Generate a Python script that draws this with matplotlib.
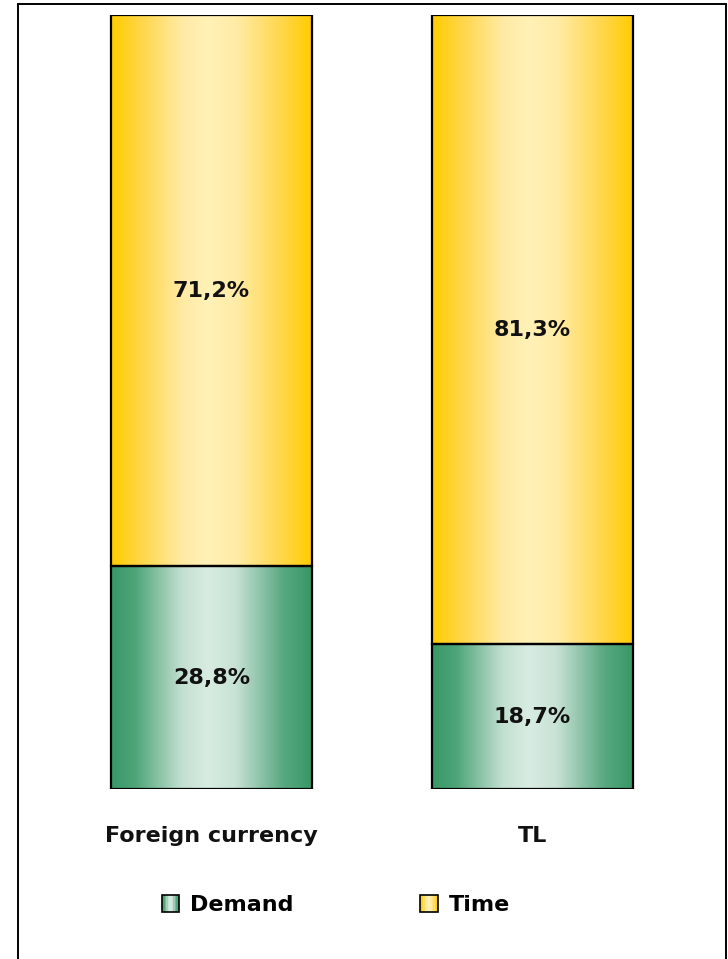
import numpy as np
import matplotlib
matplotlib.use('Agg')
import matplotlib.pyplot as plt
from matplotlib.colors import LinearSegmentedColormap
from matplotlib.patches import Rectangle
from matplotlib.legend_handler import HandlerBase

categories = ['Foreign currency', 'TL']
series_names = ['Demand', 'Time']
demand = [28.8, 18.7]
time = [71.2, 81.3]

# horizontal shading for the bar fills: dark edges, pale middle
green = LinearSegmentedColormap.from_list('green', [
    (0.0, '#389866'), (0.12, '#4ea579'), (0.35, '#c2dfd0'), (0.48, '#d8ece2'),
    (0.62, '#c8e2d5'), (0.86, '#58a880'), (1.0, '#389866')])
yellow = LinearSegmentedColormap.from_list('yellow', [
    (0.0, '#ffcc00'), (0.12, '#ffd43a'), (0.35, '#ffeaa4'), (0.48, '#fff1b6'),
    (0.62, '#ffeca8'), (0.86, '#ffd646'), (1.0, '#ffcc00')])
grad = np.linspace(0, 1, 256).reshape(1, -1)

FS = 16


class GradientHandler(HandlerBase):
    def __init__(self, cmap):
        super().__init__()
        self.cmap = cmap

    def create_artists(self, legend, orig_handle, xdescent, ydescent,
                       width, height, fontsize, trans):
        n = 12
        arts = []
        for i in range(n):
            arts.append(Rectangle((-xdescent + i * width / n, -ydescent), width / n, height,
                                  facecolor=self.cmap((i + 0.5) / n), edgecolor='none',
                                  transform=trans))
        arts.append(Rectangle((-xdescent, -ydescent), width, height, facecolor='none',
                              edgecolor='black', lw=1.2, transform=trans))
        return arts


fig = plt.figure(figsize=(7.28, 9.59), dpi=100)
ax = fig.add_axes([51 / 728, 170 / 959, 642 / 728, 774 / 959])

x = np.arange(len(categories))
width = 0.626
bars_d = ax.bar(x, demand, width, facecolor='none', edgecolor='black', linewidth=1.6, zorder=3)
bars_t = ax.bar(x, time, width, bottom=demand, facecolor='none', edgecolor='black',
                linewidth=1.6, zorder=3)

for bars, cmap in ((bars_d, green), (bars_t, yellow)):
    for r in bars:
        ax.imshow(grad, cmap=cmap, aspect='auto', interpolation='bilinear', zorder=2,
                  extent=(r.get_x(), r.get_x() + r.get_width(),
                          r.get_y(), r.get_y() + r.get_height()))

for bars, vals in ((bars_d, demand), (bars_t, time)):
    ax.bar_label(bars, labels=[f'{v:.1f}%'.replace('.', ',') for v in vals],
                 label_type='center', fontsize=FS, fontweight='bold', color='#111111')

ax.set_xlim(-0.5, 1.5)
ax.set_ylim(0, 100)
ax.set_xticks(x, categories, fontsize=FS, fontweight='bold', color='#111111')
ax.tick_params(axis='x', length=0, pad=27)
ax.set_yticks([])
for s in ax.spines.values():
    s.set_visible(False)

fig.legend([bars_d[0], bars_t[0]], series_names,
           handler_map={bars_d[0]: GradientHandler(green), bars_t[0]: GradientHandler(yellow)},
           loc='center', bbox_to_anchor=(336 / 728, 54 / 959), ncol=2, frameon=False,
           prop={'size': FS, 'weight': 'bold'}, handlelength=0.77, handleheight=0.85,
           handletextpad=0.5, columnspacing=5.7)

# outer chart frame
fig.add_artist(Rectangle((18 / 728, -0.02), 708 / 728, 955 / 959 + 0.02,
                         transform=fig.transFigure, fill=False, edgecolor='black', lw=1.4))

fig.savefig('out.png', dpi=100)
